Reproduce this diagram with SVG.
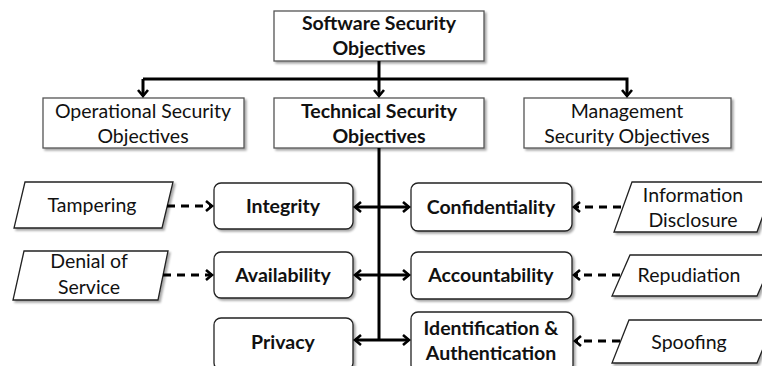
<svg xmlns="http://www.w3.org/2000/svg" width="762" height="366" viewBox="0 0 762 366">
<defs>
<filter id="sh" x="-10%" y="-10%" width="130%" height="140%">
<feDropShadow dx="2" dy="2" stdDeviation="1" flood-color="#000" flood-opacity="0.35"/>
</filter>
<marker id="ah" markerUnits="userSpaceOnUse" markerWidth="12" markerHeight="14" refX="8" refY="6" orient="auto">
<path d="M2,1 L8,6 L2,11" fill="none" stroke="#000" stroke-width="2.6"/>
</marker>
</defs>
<style>
.box{fill:#fff;stroke:#555;stroke-width:1.3;filter:url(#sh)}
.rbox{fill:#fff;stroke:#222;stroke-width:1.3;filter:url(#sh)}
.par{fill:#fff;stroke:#222;stroke-width:1.3;filter:url(#sh)}
text{font-family:Lato,"Liberation Sans",sans-serif;font-size:19.5px;fill:#111;text-anchor:middle}
.b{font-weight:bold}
.c{fill:none;stroke:#000;stroke-width:3}
.d{fill:none;stroke:#000;stroke-width:3;stroke-dasharray:8,6}
</style>
<g id="software">
<rect class="box" x="274" y="11" width="210" height="50"/>
<text class="b" x="379" y="30">Software Security</text>
<text class="b" x="379" y="55">Objectives</text>
</g>
<g id="operational">
<rect class="box" x="43" y="98" width="201" height="50"/>
<text x="143" y="118">Operational Security</text>
<text x="143" y="143">Objectives</text>
</g>
<g id="technical">
<rect class="box" x="274" y="98" width="210" height="50"/>
<text class="b" x="379" y="118">Technical Security</text>
<text class="b" x="379" y="143">Objectives</text>
</g>
<g id="management">
<rect class="box" x="524" y="98" width="207" height="50"/>
<text x="627" y="118">Management</text>
<text x="627" y="143">Security Objectives</text>
</g>
<g id="integrity">
<rect class="rbox" x="214" y="183" width="139" height="46" rx="7"/>
<text class="b" x="283" y="213">Integrity</text>
</g>
<g id="availability">
<rect class="rbox" x="214" y="252" width="139" height="46" rx="7"/>
<text class="b" x="283" y="282">Availability</text>
</g>
<g id="privacy">
<rect class="rbox" x="214" y="318" width="139" height="52" rx="7"/>
<text class="b" x="283" y="349">Privacy</text>
</g>
<g id="confidentiality">
<rect class="rbox" x="411" y="183" width="161" height="48" rx="7"/>
<text class="b" x="491" y="214">Confidentiality</text>
</g>
<g id="accountability">
<rect class="rbox" x="411" y="252" width="161" height="47" rx="7"/>
<text class="b" x="491" y="282">Accountability</text>
</g>
<g id="identification">
<rect class="rbox" x="411" y="312" width="162" height="60" rx="7"/>
<text class="b" x="491" y="335">Identification &amp;</text>
<text class="b" x="491" y="360">Authentication</text>
</g>
<g id="tampering">
<polygon class="par" points="25,182 173,182 162,228 14,228"/>
<text x="92" y="212">Tampering</text>
</g>
<g id="denial">
<polygon class="par" points="24,251 168,251 158,300 13,300"/>
<text x="89" y="268">Denial of</text>
<text x="89" y="294">Service</text>
</g>
<g id="disclosure">
<polygon class="par" points="632,182 775,182 757,232 614,232"/>
<text x="693" y="202">Information</text>
<text x="693" y="227">Disclosure</text>
</g>
<g id="repudiation">
<polygon class="par" points="630,255 775,255 757,296 612,296"/>
<text x="689" y="282">Repudiation</text>
</g>
<g id="spoofing">
<polygon class="par" points="629,320 775,320 757,363 612,363"/>
<text x="689" y="349">Spoofing</text>
</g>
<g id="connectors">
<path class="c" d="M379,61 V96" marker-end="url(#ah)"/>
<path class="c" d="M143,79 H627 V96" marker-end="url(#ah)"/>
<path class="c" d="M143,79 V96" marker-end="url(#ah)"/>
<path class="c" d="M379,148 V341"/>
<path class="c" d="M379,207 H355" marker-end="url(#ah)"/>
<path class="c" d="M379,207 H409" marker-end="url(#ah)"/>
<path class="c" d="M379,275 H355" marker-end="url(#ah)"/>
<path class="c" d="M379,275 H409" marker-end="url(#ah)"/>
<path class="c" d="M379,340 H355" marker-end="url(#ah)"/>
<path class="c" d="M379,340 H409" marker-end="url(#ah)"/>
<path class="d" d="M167,206 H212" marker-end="url(#ah)"/>
<path class="d" d="M163,275 H212" marker-end="url(#ah)"/>
<path class="d" d="M621,207 H574" marker-end="url(#ah)"/>
<path class="d" d="M620,275 H574" marker-end="url(#ah)"/>
<path class="d" d="M620,341 H575" marker-end="url(#ah)"/>
</g>
</svg>
